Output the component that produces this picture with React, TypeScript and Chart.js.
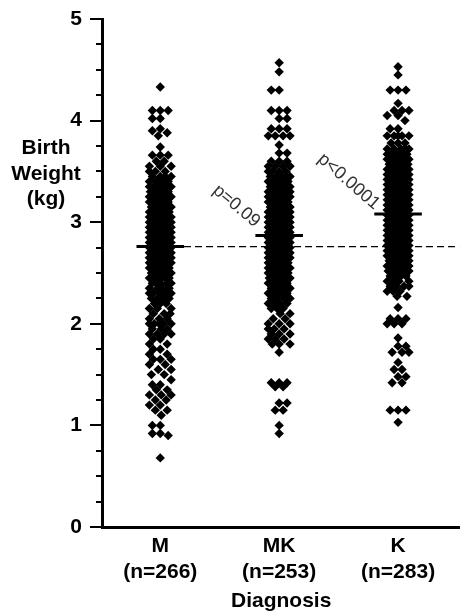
import React, { useEffect, useRef } from "react";
import { Chart, registerables } from "chart.js";

Chart.register(...registerables);

// ---------- data ----------
const categories = ["M", "MK", "K"];
const groupSizes = [266, 253, 283];
const medians = [2.76, 2.87, 3.08];
const referenceMedian = 2.76;
const yTickValues = [0, 1, 2, 3, 4, 5];
const pValueLabels = ["p=0.09", "p<0.0001"];

const weightsM = [
  4.33,
  4.1, 4.1, 4.1,
  4.02, 4.02,
  3.92, 3.9, 3.88,
  3.85,
  3.74,
  3.66, 3.66, 3.66,
  3.6, 3.6,
  3.55, 3.55, 3.55,
  3.5, 3.5, 3.5,
  3.45, 3.45, 3.45, 3.45,
  3.4, 3.4, 3.4, 3.4, 3.4,
  3.35, 3.35, 3.35, 3.35, 3.35, 3.35,
  3.3, 3.3, 3.3, 3.3, 3.3, 3.3,
  3.25, 3.25, 3.25, 3.25, 3.25, 3.25,
  3.2, 3.2, 3.2, 3.2, 3.2, 3.2, 3.2,
  3.15, 3.15, 3.15, 3.15, 3.15, 3.15, 3.15, 3.15,
  3.1, 3.1, 3.1, 3.1, 3.1, 3.1, 3.1, 3.1, 3.1,
  3.05, 3.05, 3.05, 3.05, 3.05, 3.05, 3.05, 3.05, 3.05,
  3.0, 3.0, 3.0, 3.0, 3.0, 3.0, 3.0, 3.0, 3.0, 3.0,
  2.95, 2.95, 2.95, 2.95, 2.95, 2.95, 2.95, 2.95, 2.95, 2.95,
  2.9, 2.9, 2.9, 2.9, 2.9, 2.9, 2.9, 2.9, 2.9, 2.9,
  2.85, 2.85, 2.85, 2.85, 2.85, 2.85, 2.85, 2.85, 2.85, 2.85,
  2.8, 2.8, 2.8, 2.8, 2.8, 2.8, 2.8, 2.8, 2.8, 2.8,
  2.75, 2.75, 2.75, 2.75, 2.75, 2.75, 2.75, 2.75, 2.75, 2.75,
  2.7, 2.7, 2.7, 2.7, 2.7, 2.7, 2.7, 2.7, 2.7,
  2.65, 2.65, 2.65, 2.65, 2.65, 2.65, 2.65, 2.65,
  2.6, 2.6, 2.6, 2.6, 2.6, 2.6, 2.6,
  2.55, 2.55, 2.55, 2.55, 2.55, 2.55, 2.55, 2.55,
  2.5, 2.5, 2.5, 2.5, 2.5, 2.5,
  2.45, 2.45, 2.45, 2.45, 2.45, 2.45,
  2.4, 2.4, 2.4, 2.4, 2.4,
  2.35, 2.35, 2.35, 2.35,
  2.3, 2.3, 2.3, 2.3, 2.3,
  2.25, 2.25, 2.25, 2.25,
  2.2, 2.2, 2.2,
  2.15, 2.15, 2.15,
  2.1, 2.1, 2.1,
  2.05, 2.05, 2.05,
  2.0, 2.0, 2.0, 2.0, 2.0,
  1.95, 1.95, 1.95,
  1.9, 1.9, 1.9, 1.9,
  1.85, 1.85,
  1.8, 1.8,
  1.75, 1.75,
  1.7, 1.7,
  1.65, 1.65, 1.65,
  1.6, 1.6,
  1.55, 1.55,
  1.5, 1.5,
  1.45,
  1.4, 1.4,
  1.35, 1.35,
  1.3, 1.3, 1.3,
  1.25, 1.25,
  1.2, 1.2,
  1.15, 1.15,
  1.1,
  1.0, 1.0,
  0.92, 0.92,
  0.9,
  0.68,
];

const weightsMK = [
  4.57,
  4.48,
  4.3, 4.3,
  4.1, 4.1, 4.1,
  4.02, 4.02,
  3.92, 3.92, 3.92,
  3.85, 3.85, 3.85, 3.85,
  3.76,
  3.68, 3.68,
  3.6, 3.6, 3.6,
  3.55, 3.55, 3.55, 3.55,
  3.5, 3.5, 3.5, 3.5,
  3.45, 3.45, 3.45, 3.45, 3.45,
  3.4, 3.4, 3.4, 3.4, 3.4,
  3.35, 3.35, 3.35, 3.35, 3.35, 3.35,
  3.3, 3.3, 3.3, 3.3, 3.3, 3.3,
  3.25, 3.25, 3.25, 3.25, 3.25, 3.25, 3.25,
  3.2, 3.2, 3.2, 3.2, 3.2, 3.2, 3.2,
  3.15, 3.15, 3.15, 3.15, 3.15, 3.15, 3.15, 3.15,
  3.1, 3.1, 3.1, 3.1, 3.1, 3.1, 3.1, 3.1,
  3.05, 3.05, 3.05, 3.05, 3.05, 3.05, 3.05, 3.05, 3.05,
  3.0, 3.0, 3.0, 3.0, 3.0, 3.0, 3.0, 3.0, 3.0,
  2.95, 2.95, 2.95, 2.95, 2.95, 2.95, 2.95, 2.95, 2.95, 2.95,
  2.9, 2.9, 2.9, 2.9, 2.9, 2.9, 2.9, 2.9, 2.9, 2.9,
  2.85, 2.85, 2.85, 2.85, 2.85, 2.85, 2.85, 2.85, 2.85, 2.85,
  2.8, 2.8, 2.8, 2.8, 2.8, 2.8, 2.8, 2.8, 2.8, 2.8,
  2.75, 2.75, 2.75, 2.75, 2.75, 2.75, 2.75, 2.75, 2.75,
  2.7, 2.7, 2.7, 2.7, 2.7, 2.7, 2.7, 2.7, 2.7,
  2.65, 2.65, 2.65, 2.65, 2.65, 2.65, 2.65, 2.65,
  2.6, 2.6, 2.6, 2.6, 2.6, 2.6, 2.6, 2.6,
  2.55, 2.55, 2.55, 2.55, 2.55, 2.55, 2.55,
  2.5, 2.5, 2.5, 2.5, 2.5, 2.5, 2.5,
  2.48,
  2.45, 2.45, 2.45, 2.45, 2.45, 2.45,
  2.4, 2.4, 2.4, 2.4, 2.4, 2.4,
  2.35, 2.35, 2.35, 2.35, 2.35,
  2.3, 2.3, 2.3, 2.3, 2.3,
  2.25, 2.25, 2.25, 2.25,
  2.2, 2.2, 2.2, 2.2,
  2.15, 2.15, 2.15,
  2.1, 2.1,
  2.05, 2.05,
  2.0, 2.0, 2.0,
  1.95, 1.95, 1.95,
  1.9, 1.9, 1.9,
  1.85, 1.85, 1.85,
  1.8, 1.8, 1.8,
  1.72,
  1.42, 1.42, 1.42,
  1.38, 1.38,
  1.22, 1.22,
  1.15, 1.15,
  1.0,
  0.92,
];

const weightsK = [
  4.53,
  4.45,
  4.3, 4.3, 4.3,
  4.17,
  4.1, 4.1, 4.1,
  4.05, 4.05,
  4.0,
  3.92, 3.92,
  3.85, 3.85, 3.85, 3.85, 3.85,
  3.78, 3.78, 3.78,
  3.72, 3.72, 3.72, 3.72, 3.72,
  3.67, 3.67, 3.67, 3.67, 3.67, 3.67,
  3.62, 3.62, 3.62, 3.62, 3.62, 3.62, 3.62,
  3.57, 3.57, 3.57, 3.57, 3.57, 3.57, 3.57, 3.57,
  3.52, 3.52, 3.52, 3.52, 3.52, 3.52, 3.52, 3.52, 3.52,
  3.47, 3.47, 3.47, 3.47, 3.47, 3.47, 3.47, 3.47, 3.47,
  3.42, 3.42, 3.42, 3.42, 3.42, 3.42, 3.42, 3.42, 3.42, 3.42,
  3.37, 3.37, 3.37, 3.37, 3.37, 3.37, 3.37, 3.37, 3.37, 3.37,
  3.32, 3.32, 3.32, 3.32, 3.32, 3.32, 3.32, 3.32, 3.32, 3.32,
  3.27, 3.27, 3.27, 3.27, 3.27, 3.27, 3.27, 3.27, 3.27, 3.27,
  3.22, 3.22, 3.22, 3.22, 3.22, 3.22, 3.22, 3.22, 3.22, 3.22,
  3.17, 3.17, 3.17, 3.17, 3.17, 3.17, 3.17, 3.17, 3.17, 3.17,
  3.12, 3.12, 3.12, 3.12, 3.12, 3.12, 3.12, 3.12, 3.12, 3.12,
  3.07, 3.07, 3.07, 3.07, 3.07, 3.07, 3.07, 3.07, 3.07, 3.07,
  3.02, 3.02, 3.02, 3.02, 3.02, 3.02, 3.02, 3.02, 3.02,
  2.97, 2.97, 2.97, 2.97, 2.97, 2.97, 2.97, 2.97, 2.97, 2.97,
  2.92, 2.92, 2.92, 2.92, 2.92, 2.92, 2.92, 2.92, 2.92, 2.92,
  2.87, 2.87, 2.87, 2.87, 2.87, 2.87, 2.87, 2.87, 2.87, 2.87,
  2.82, 2.82, 2.82, 2.82, 2.82, 2.82, 2.82, 2.82, 2.82, 2.82,
  2.77, 2.77, 2.77, 2.77, 2.77, 2.77, 2.77, 2.77, 2.77,
  2.72, 2.72, 2.72, 2.72, 2.72, 2.72, 2.72, 2.72, 2.72,
  2.67, 2.67, 2.67, 2.67, 2.67, 2.67, 2.67, 2.67,
  2.62, 2.62, 2.62, 2.62, 2.62, 2.62, 2.62,
  2.57, 2.57, 2.57, 2.57, 2.57, 2.57, 2.57,
  2.52, 2.52, 2.52, 2.52, 2.52, 2.52,
  2.47, 2.47, 2.47, 2.47, 2.47,
  2.42, 2.42, 2.42, 2.42,
  2.37, 2.37, 2.37, 2.37,
  2.32, 2.32, 2.32,
  2.27, 2.27,
  2.16,
  2.05, 2.05, 2.05,
  2.0, 2.0, 2.0,
  1.86,
  1.78, 1.78,
  1.72, 1.72, 1.72,
  1.62,
  1.55, 1.55,
  1.48, 1.48,
  1.42, 1.42,
  1.15, 1.15, 1.15,
  1.03,
];

const groups = [weightsM, weightsMK, weightsK];

// ---------- helpers ----------
const FONT = "'Liberation Sans', Arial, Helvetica, sans-serif";

type Pt = { x: number; y: number };

// Deterministic swarm layout: spreads points sideways (in pixels) so they
// overlap as little as possible within a capped column width.
function swarm(values: number[], center: number, pxPerX: number, pxPerY: number): Pt[] {
  const CAP = 11;
  const D = 8;
  const order = values.map((_, i) => i).sort((a, b) => values[b] - values[a]);
  const placed: { x: number; y: number }[] = [];
  const out: Pt[] = new Array(values.length);
  let flip = false;
  for (const i of order) {
    const py = values[i] * pxPerY;
    const cands: number[] = [0];
    for (let k = 1; k <= CAP; k++) {
      if (flip) cands.push(-k, k);
      else cands.push(k, -k);
    }
    flip = !flip;
    let best = 0;
    let bestD = -1;
    let chosen: number | null = null;
    for (const c of cands) {
      let md = Infinity;
      for (const p of placed) {
        const dy = p.y - py;
        if (Math.abs(dy) < D) {
          const d = Math.hypot(p.x - c, dy);
          if (d < md) md = d;
        }
      }
      if (md >= D) {
        chosen = c;
        break;
      }
      if (md > bestD) {
        bestD = md;
        best = c;
      }
    }
    const cx = chosen !== null ? chosen : best;
    placed.push({ x: cx, y: py });
    out[i] = { x: center + cx / pxPerX, y: values[i] };
  }
  return out;
}

const decorPlugin = {
  id: "decor",
  afterDraw(chart: any) {
    const { ctx, scales } = chart;
    const xs = scales.x;
    const ys = scales.y;
    ctx.save();
    // y ticks (major at integers, minor at quarters)
    ctx.strokeStyle = "#000";
    ctx.lineWidth = 2;
    const left = ys.right;
    for (const t of ys.ticks) {
      const py = Math.round(ys.getPixelForValue(t.value));
      const major = yTickValues.includes(t.value);
      const len = major ? 12 : 6;
      ctx.beginPath();
      ctx.moveTo(left - len, py);
      ctx.lineTo(left, py);
      ctx.stroke();
    }
    // y title
    ctx.fillStyle = "#000";
    ctx.font = `bold 21px ${FONT}`;
    ctx.textAlign = "center";
    ctx.textBaseline = "alphabetic";
    ctx.fillText("Birth", 46, 154);
    ctx.fillText("Weight", 46, 180);
    ctx.fillText("(kg)", 46, 205);
    // x title
    ctx.fillText("Diagnosis", xs.getPixelForValue(1) + 2, 607);
    // p-value annotations
    ctx.font = `18px ${FONT}`;
    ctx.fillStyle = "#333";
    ctx.textBaseline = "middle";
    const anchors = [
      { x: 0.64, y: 3.16, a: 40 },
      { x: 1.585, y: 3.4, a: 41 },
    ];
    anchors.forEach((an, i) => {
      ctx.save();
      ctx.translate(xs.getPixelForValue(an.x), ys.getPixelForValue(an.y));
      ctx.rotate((an.a * Math.PI) / 180);
      ctx.fillText(pValueLabels[i], 0, 0);
      ctx.restore();
    });
    ctx.restore();
  },
};

export default function App() {
  const canvasRef = useRef<HTMLCanvasElement | null>(null);

  useEffect(() => {
    document.body.style.margin = "0";
    const canvas = canvasRef.current;
    if (!canvas) return;

    const pointSets = groups.map(() => ({
      type: "scatter" as const,
      data: [] as Pt[],
      pointStyle: "rectRot" as const,
      pointRadius: 4.7,
      pointBackgroundColor: "#000",
      pointBorderColor: "#000",
      pointBorderWidth: 0,
      showLine: false,
      order: 3,
    }));

    const medianSets = medians.map((m, i) => ({
      type: "scatter" as const,
      data: [
        { x: i - 0.2, y: m },
        { x: i + 0.2, y: m },
      ],
      showLine: true,
      borderColor: "#000",
      borderWidth: 3,
      pointRadius: 0,
      order: 1,
    }));

    const refSet = {
      type: "scatter" as const,
      data: [
        { x: 0.2, y: referenceMedian },
        { x: 2.515, y: referenceMedian },
      ],
      showLine: true,
      borderColor: "#000",
      borderWidth: 1.3,
      borderDash: [7, 4],
      pointRadius: 0,
      order: 2,
    };

    const chart = new Chart(canvas, {
      type: "scatter",
      data: { datasets: [...medianSets, refSet, ...pointSets] as any },
      options: {
        animation: false,
        responsive: true,
        maintainAspectRatio: false,
        events: [],
        layout: { padding: { top: 19, right: 0, bottom: 0, left: 0 } },
        plugins: {
          legend: { display: false },
          tooltip: { enabled: false },
        },
        scales: {
          x: {
            type: "linear",
            min: -0.49,
            max: 2.515,
            afterBuildTicks: (scale: any) => {
              scale.ticks = categories.map((_, i) => ({ value: i }));
            },
            afterFit: (scale: any) => {
              scale.height = 84;
              scale.paddingLeft = 0;
              scale.paddingRight = 0;
            },
            ticks: {
              autoSkip: false,
              maxRotation: 0,
              padding: 6,
              color: "#000",
              font: { family: FONT, size: 21, weight: "bold", lineHeight: 1.24 },
              callback: (v: any) => {
                const i = Math.round(Number(v));
                return [categories[i], `(n=${groupSizes[i]})`];
              },
            },
            grid: { display: false, drawTicks: false },
            border: { display: true, color: "#000", width: 3 },
          },
          y: {
            type: "linear",
            min: 0,
            max: 5,
            afterFit: (scale: any) => {
              scale.width = 102;
              scale.paddingTop = 0;
              scale.paddingBottom = 0;
            },
            ticks: {
              stepSize: 0.25,
              autoSkip: false,
              padding: 20,
              color: "#000",
              font: { family: FONT, size: 21, weight: "bold" },
              callback: (v: any) => (yTickValues.includes(Number(v)) ? String(v) : ""),
            },
            grid: { display: false, drawTicks: false },
            border: { display: true, color: "#000", width: 3 },
          },
        },
      },
      plugins: [decorPlugin],
    });

    const xs: any = chart.scales.x;
    const ys: any = chart.scales.y;
    const pxPerX = xs.getPixelForValue(1) - xs.getPixelForValue(0);
    const pxPerY = ys.getPixelForValue(0) - ys.getPixelForValue(1);
    groups.forEach((g, i) => {
      (chart.data.datasets[medianSets.length + 1 + i] as any).data = swarm(g, i, pxPerX, pxPerY);
    });
    chart.update("none");

    return () => chart.destroy();
  }, []);

  return (
    <div style={{ position: "relative", width: 464, height: 611 }}>
      <canvas ref={canvasRef} />
    </div>
  );
}
